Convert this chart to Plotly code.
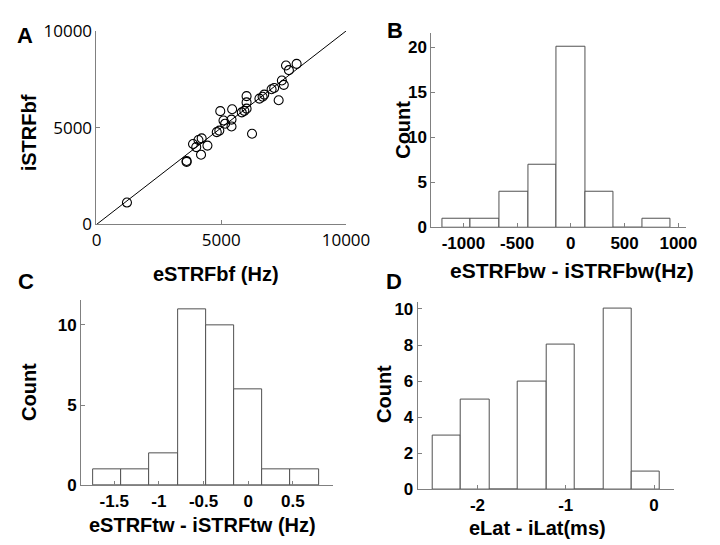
import plotly.graph_objects as go

# ---------------- data ----------------
# Panel A: scatter eSTRFbf vs iSTRFbf
a_x = [1221, 3612, 3612, 3869, 3997, 4087, 4216, 4190, 4447, 4820, 4923, 4961,
       5090, 5154, 5411, 5437, 5411, 5823, 5925, 6015, 6015, 6015, 6234, 6530,
       6658, 6722, 7018, 7121, 7301, 7429, 7506, 7596, 7712, 8021]
a_y = [1133, 3285, 3236, 4159, 3997, 4369, 4450, 3608, 4078, 4773, 4854, 5858,
       5372, 5210, 5421, 5955, 5065, 5793, 5874, 5987, 6311, 6634, 4693, 6505,
       6602, 6715, 6990, 7055, 6424, 7443, 7217, 8220, 7977, 8301]
identity_line = [0, 10000]
a_ticks = [0, 5000, 10000]

# Panel B: eSTRFbw - iSTRFbw histogram
b_centers = [-1064, -798, -532, -266, 0, 266, 532, 798]
b_counts = [1, 1, 4, 7, 20, 4, 0, 1]
b_width = 266
b_xticks = [-1000, -500, 0, 500, 1000]
b_yticks = [0, 5, 10, 15, 20]

# Panel C: eSTRFtw - iSTRFtw histogram
c_centers = [-1.58, -1.264, -0.948, -0.632, -0.316, 0.0, 0.316, 0.632]
c_counts = [1, 1, 2, 11, 10, 6, 1, 1]
c_width = 0.316
c_xticks = [-1.5, -1, -0.5, 0, 0.5]
c_xlabels = ["-1.5", "-1", "-0.5", "0", "0.5"]
c_yticks = [0, 5, 10]

# Panel D: eLat - iLat histogram
d_centers = [-2.351, -2.027, -1.705, -1.382, -1.059, -0.737, -0.414, -0.093]
d_counts = [3, 5, 0, 6, 8, 0, 10, 1]
d_width = 0.323
d_xticks = [-2, -1, 0]
d_yticks = [0, 2, 4, 6, 8, 10]

# ---------------- layout helpers ----------------
W, H = 720, 545


def px(x):
    return x / W


def py(y):
    return 1 - y / H


AXIS_COLOR = "#808080"
BAR_LINE = "#505050"
BOLD_FONT = "Liberation Sans, Arial, sans-serif"
A_FONT = "Open Sans, Liberation Sans, sans-serif"

fig = go.Figure()

# Panel A
fig.add_trace(go.Scatter(x=identity_line, y=identity_line, mode="lines",
                         line=dict(color="black", width=1),
                         xaxis="x", yaxis="y", showlegend=False, hoverinfo="skip"))
fig.add_trace(go.Scatter(x=a_x, y=a_y, mode="markers",
                         marker=dict(symbol="circle-open", size=9,
                                     color="black", line=dict(width=1.1, color="black")),
                         xaxis="x", yaxis="y", showlegend=False))

# Panels B, C, D
for cx, cnt, w, xa, ya in [(b_centers, b_counts, b_width, "x2", "y2"),
                           (c_centers, c_counts, c_width, "x3", "y3"),
                           (d_centers, d_counts, d_width, "x4", "y4")]:
    fig.add_trace(go.Bar(x=cx, y=cnt, width=w,
                         marker=dict(color="white", line=dict(color=BAR_LINE, width=1)),
                         xaxis=xa, yaxis=ya, showlegend=False))


def axis_common(font_family, size):
    return dict(showgrid=False, zeroline=False, showline=True,
                linecolor=AXIS_COLOR, linewidth=1,
                ticks="inside", ticklen=4, tickcolor=AXIS_COLOR, tickwidth=1,
                tickfont=dict(family=font_family, size=size, color="black"),
                fixedrange=True)


def bold(labels):
    return ["<b>%s</b>" % t for t in labels]


layout = dict(
    width=W, height=H,
    margin=dict(l=0, r=0, t=0, b=0),
    paper_bgcolor="white", plot_bgcolor="white",
    bargap=0,
    xaxis=dict(domain=[px(87), px(347)], range=[0, 10001], anchor="y",
               tickvals=a_ticks, ticktext=[str(t) for t in a_ticks],
               **axis_common(A_FONT, 17)),
    yaxis=dict(domain=[py(213.5), py(11.5)], range=[0, 10001], anchor="x",
               tickvals=a_ticks, ticktext=[str(t) for t in a_ticks],
               **axis_common(A_FONT, 17)),
    xaxis2=dict(domain=[px(436), px(701)], range=[-1297, 1069], anchor="y2",
                tickvals=b_xticks, ticktext=bold([str(t) for t in b_xticks]),
                **axis_common(BOLD_FONT, 17)),
    yaxis2=dict(domain=[py(216.5), py(13.3)], range=[0, 21.6], anchor="x2",
                tickvals=b_yticks, ticktext=bold([str(t) for t in b_yticks]),
                **axis_common(BOLD_FONT, 17)),
    xaxis3=dict(domain=[px(71), px(333.3)], range=[-1.871, 0.949], anchor="y3",
                tickvals=c_xticks, ticktext=bold(c_xlabels),
                **axis_common(BOLD_FONT, 17)),
    yaxis3=dict(domain=[py(485.7), py(292.7)], range=[0, 11.53], anchor="x3",
                tickvals=c_yticks, ticktext=bold([str(t) for t in c_yticks]),
                **axis_common(BOLD_FONT, 17)),
    xaxis4=dict(domain=[px(421.7), px(688.3)], range=[-2.677, 0.221], anchor="y4",
                tickvals=d_xticks, ticktext=bold([str(t) for t in d_xticks]),
                **axis_common(BOLD_FONT, 17)),
    yaxis4=dict(domain=[py(490), py(294)], range=[0, 10.41], anchor="x4",
                tickvals=d_yticks, ticktext=bold([str(t) for t in d_yticks]),
                **axis_common(BOLD_FONT, 17)),
)
fig.update_layout(**layout)


def label(text, x, y, size=20, angle=0):
    fig.add_annotation(text="<b>%s</b>" % text, x=px(x), y=py(y),
                       xref="paper", yref="paper",
                       showarrow=False, textangle=angle,
                       xanchor="center", yanchor="middle",
                       font=dict(family=BOLD_FONT, size=size, color="black"))


# panel letters
label("A", 12, 16, 22)
label("B", 398, 11, 22)
label("C", 14, 273, 22)
label("D", 397, 273, 22)

# axis titles
label("eSTRFbf (Hz)", 211, 265, 20)
label("iSTRFbf", 17, 118, 20, -90)
label("eSTRFbw - iSTRFbw(Hz)", 582, 262, 21)
label("Count", 406, 115, 20, -90)
label("eSTRFtw - iSTRFtw (Hz)", 197, 527, 20)
label("Count", 16, 388, 20, -90)
label("eLat - iLat(ms)", 547, 530, 20)
label("Count", 386, 390, 20, -90)

fig.write_html("out.html")
